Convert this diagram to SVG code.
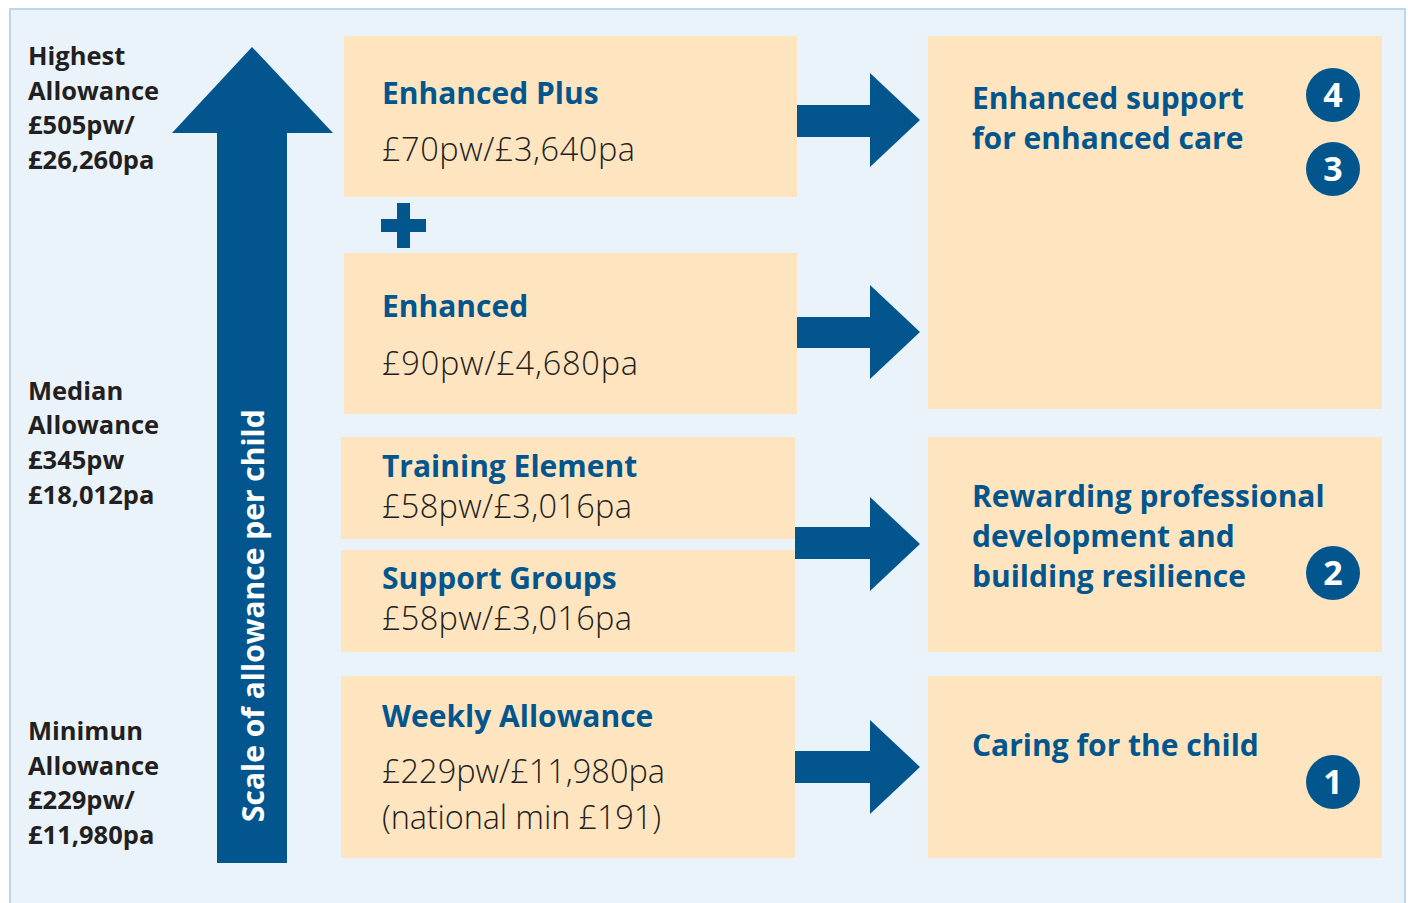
<svg xmlns="http://www.w3.org/2000/svg" width="1408" height="903" viewBox="0 0 1408 903">
  <style>
    .panel { fill: #EAF3FA; stroke: #BDD7EA; stroke-width: 2; }
    .box { fill: #FEE5C0; }
    .blue { fill: #02568D; }
    .level { font-family: "Open Sans", "Liberation Sans", sans-serif; font-weight: 700; font-size: 25.5px; fill: #231F20; }
    .title { font-family: "Open Sans", "Liberation Sans", sans-serif; font-weight: 700; font-size: 30px; fill: #02568D; }
    .price { font-family: "Open Sans", "Liberation Sans", sans-serif; font-weight: 300; font-size: 32.5px; fill: #231F20; }
    .outcome { font-family: "Open Sans", "Liberation Sans", sans-serif; font-weight: 700; font-size: 30px; fill: #02568D; }
    .num { font-family: "Open Sans", "Liberation Sans", sans-serif; font-weight: 700; font-size: 34px; fill: #FFFFFF; text-anchor: middle; }
    .scale { font-family: "Open Sans", "Liberation Sans", sans-serif; font-weight: 700; font-size: 30px; fill: #FFFFFF; }
  </style>

  <!-- background panel -->
  <rect class="panel" x="10" y="9" width="1395" height="910"/>

  <!-- allowance levels -->
  <g id="level-highest">
    <text class="level" x="28" y="65">Highest</text>
    <text class="level" x="28" y="100">Allowance</text>
    <text class="level" x="28" y="134">£505pw/</text>
    <text class="level" x="28" y="169">£26,260pa</text>
  </g>
  <g id="level-median">
    <text class="level" x="28" y="400">Median</text>
    <text class="level" x="28" y="434">Allowance</text>
    <text class="level" x="28" y="469">£345pw</text>
    <text class="level" x="28" y="504">£18,012pa</text>
  </g>
  <g id="level-minimum">
    <text class="level" x="28" y="740">Minimun</text>
    <text class="level" x="28" y="775">Allowance</text>
    <text class="level" x="28" y="809">£229pw/</text>
    <text class="level" x="28" y="844">£11,980pa</text>
  </g>

  <!-- scale arrow -->
  <g id="scale-arrow">
    <polygon class="blue" points="252,47 333,133 287,133 287,863 217,863 217,133 172,133"/>
    <text class="scale" transform="translate(264,822) rotate(-90)">Scale of allowance per child</text>
  </g>

  <!-- payment elements -->
  <g id="enhanced-plus">
    <rect class="box" x="344" y="36" width="453" height="161"/>
    <text class="title" x="382" y="104">Enhanced Plus</text>
    <text class="price" x="382" y="161" textLength="253">£70pw/£3,640pa</text>
  </g>
  <g id="plus-sign">
    <rect class="blue" x="381" y="219" width="45" height="13"/>
    <rect class="blue" x="397" y="203" width="13" height="45"/>
  </g>
  <g id="enhanced">
    <rect class="box" x="344" y="253" width="453" height="161"/>
    <text class="title" x="382" y="317">Enhanced</text>
    <text class="price" x="382" y="375" textLength="256">£90pw/£4,680pa</text>
  </g>
  <g id="training-element">
    <rect class="box" x="341" y="437" width="454" height="102"/>
    <text class="title" x="382" y="477">Training Element</text>
    <text class="price" x="382" y="518" textLength="250">£58pw/£3,016pa</text>
  </g>
  <g id="support-groups">
    <rect class="box" x="341" y="550" width="454" height="102"/>
    <text class="title" x="382" y="589">Support Groups</text>
    <text class="price" x="382" y="630" textLength="250">£58pw/£3,016pa</text>
  </g>
  <g id="weekly-allowance">
    <rect class="box" x="341" y="676" width="454" height="182"/>
    <text class="title" x="382" y="727">Weekly Allowance</text>
    <text class="price" x="382" y="783" textLength="283">£229pw/£11,980pa</text>
    <text class="price" x="382" y="829" textLength="279">(national min £191)</text>
  </g>

  <!-- outcomes -->
  <g id="enhanced-care">
    <rect class="box" x="928" y="36" width="454" height="373"/>
    <text class="outcome" x="972" y="109">Enhanced support</text>
    <text class="outcome" x="972" y="149">for enhanced care</text>
    <circle class="blue" cx="1333" cy="95" r="27"/>
    <text class="num" x="1333" y="107">4</text>
    <circle class="blue" cx="1333" cy="169" r="27"/>
    <text class="num" x="1333" y="181">3</text>
  </g>
  <g id="professional-development">
    <rect class="box" x="928" y="437" width="454" height="215"/>
    <text class="outcome" x="972" y="507">Rewarding professional</text>
    <text class="outcome" x="972" y="547">development and</text>
    <text class="outcome" x="972" y="587">building resilience</text>
    <circle class="blue" cx="1333" cy="573" r="27"/>
    <text class="num" x="1333" y="585">2</text>
  </g>
  <g id="caring">
    <rect class="box" x="928" y="676" width="454" height="182"/>
    <text class="outcome" x="972" y="756">Caring for the child</text>
    <circle class="blue" cx="1333" cy="782" r="27"/>
    <text class="num" x="1333" y="794">1</text>
  </g>

  <!-- connectors -->
  <g id="connectors" class="blue">
    <polygon points="797,105 870,105 870,73 920,120 870,167 870,137 797,137"/>
    <polygon points="797,317 870,317 870,285 920,332 870,379 870,348 797,348"/>
    <polygon points="795,527 870,527 870,497 920,544 870,591 870,559 795,559"/>
    <polygon points="795,751 870,751 870,720 920,767 870,814 870,783 795,783"/>
  </g>
</svg>
